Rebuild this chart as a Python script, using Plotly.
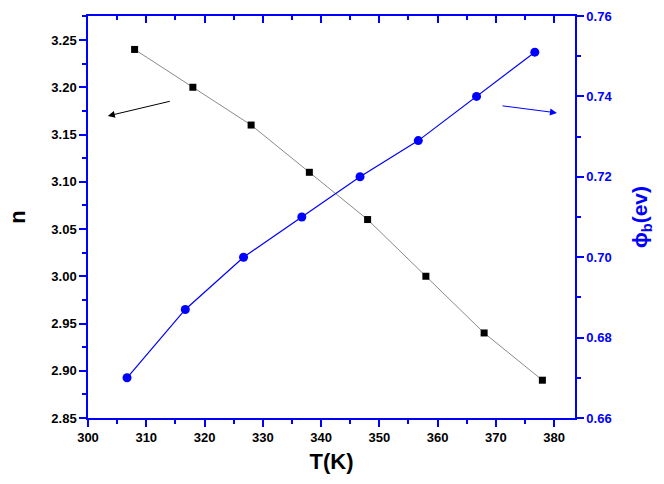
import plotly.graph_objects as go

T_n = [308, 318, 328, 338, 348, 358, 368, 378]
n_vals = [3.24, 3.20, 3.16, 3.11, 3.06, 3.00, 2.94, 2.89]
T_phi = [306.7, 316.7, 326.7, 336.7, 346.7, 356.7, 366.7, 376.7]
phi_vals = [0.670, 0.687, 0.700, 0.710, 0.720, 0.729, 0.740, 0.751]

BLUE = "#0000ff"
FONT = "Liberation Sans"

fig = go.Figure()
fig.add_trace(go.Scatter(x=T_n, y=n_vals, mode="lines+markers",
                         line=dict(color="#8a8a8a", width=1),
                         marker=dict(symbol="square", size=7, color="black"),
                         xaxis="x", yaxis="y", showlegend=False))
fig.add_trace(go.Scatter(x=T_phi, y=phi_vals, mode="lines+markers",
                         line=dict(color=BLUE, width=1.2),
                         marker=dict(symbol="circle", size=9, color=BLUE),
                         xaxis="x", yaxis="y2", showlegend=False))
# invisible trace for top mirror axis
fig.add_trace(go.Scatter(x=[300], y=[3.0], mode="markers", marker=dict(opacity=0),
                         xaxis="x2", yaxis="y", showlegend=False, hoverinfo="skip"))

xr = [300, 383.6]
fig.update_layout(
    width=664, height=484,
    margin=dict(l=88, r=89, t=16, b=66, autoexpand=False),
    paper_bgcolor="white", plot_bgcolor="white",
    xaxis=dict(range=xr, dtick=10, tick0=300, showgrid=False, zeroline=False, automargin=False,
               showline=True, linecolor=BLUE, linewidth=1.5,
               ticks="outside", ticklen=7, tickwidth=1.5, tickcolor=BLUE,
               minor=dict(dtick=5, ticks="outside", ticklen=4, tickwidth=1.5, tickcolor=BLUE),
               tickfont=dict(family=FONT, size=13, color="black", weight="bold"),
               title=dict(text="T(K)", font=dict(family=FONT, size=22, color="black", weight="bold"),
                          standoff=9)),
    xaxis2=dict(range=xr, overlaying="x", side="top", anchor="y", dtick=10, tick0=300,
                automargin=False,
                showgrid=False, zeroline=False, showline=True, linecolor=BLUE, linewidth=1.5,
                ticks="inside", ticklen=7, tickwidth=1.5, tickcolor=BLUE,
                minor=dict(dtick=5, ticks="inside", ticklen=4, tickwidth=1.5, tickcolor=BLUE),
                showticklabels=False),
    yaxis=dict(range=[2.85, 3.2754], dtick=0.05, tick0=2.85, tickformat=".2f", automargin=False,
               showgrid=False, zeroline=False, showline=True, linecolor=BLUE, linewidth=1.5,
               ticks="outside", ticklen=7, tickwidth=1.5, tickcolor=BLUE,
               minor=dict(dtick=0.025, ticks="outside", ticklen=4, tickwidth=1.5, tickcolor=BLUE),
               tickfont=dict(family=FONT, size=13, color="black", weight="bold"),
               title=dict(text="n", font=dict(family=FONT, size=22, color="black", weight="bold"),
                          standoff=20)),
    yaxis2=dict(range=[0.66, 0.76], dtick=0.02, tick0=0.66, tickformat=".2f",
                overlaying="y", side="right", anchor="x", automargin=False,
                showgrid=False, zeroline=False, showline=True, linecolor=BLUE, linewidth=1.5,
                ticks="outside", ticklen=7, tickwidth=1.5, tickcolor=BLUE,
                minor=dict(dtick=0.01, ticks="outside", ticklen=4, tickwidth=1.5, tickcolor=BLUE),
                tickfont=dict(family=FONT, size=13, color=BLUE, weight="bold"),
                title=dict(text="ϕ<sub>b</sub>(ev)", font=dict(family=FONT, size=21, color=BLUE, weight="bold"),
                           standoff=21)),
)

fig.add_annotation(x=303.4, y=3.1696, ax=314.3, ay=3.1855, xref="x", yref="y",
                   axref="x", ayref="y", showarrow=True, arrowhead=2, arrowsize=1.4,
                   arrowwidth=1, arrowcolor="black", text="")
fig.add_annotation(x=380.5, y=0.7359, ax=370.9, ay=0.7377, xref="x", yref="y2",
                   axref="x", ayref="y2", showarrow=True, arrowhead=2, arrowsize=1.4,
                   arrowwidth=1, arrowcolor=BLUE, text="")

fig.write_html("out.html")
